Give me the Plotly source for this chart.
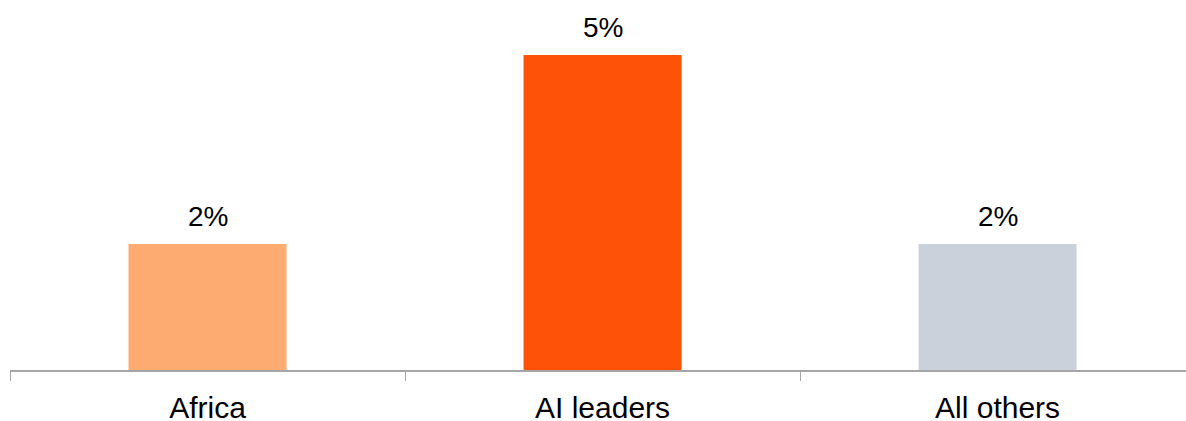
import plotly.graph_objects as go

categories = ["Africa", "AI leaders", "All others"]
values = [2, 5, 2]
labels = ["2%", "5%", "2%"]
colors = ["#FEAB72", "#FE5208", "#CBD1DA"]

FONT = "Liberation Sans, Arial"

fig = go.Figure(
    go.Bar(
        x=categories,
        y=values,
        marker=dict(color=colors, line=dict(width=0)),
        width=0.4,
        hoverinfo="skip",
    )
)

# value labels sit just above each bar
for cat, val, lab in zip(categories, values, labels):
    fig.add_annotation(
        x=cat,
        y=val,
        text=lab,
        showarrow=False,
        yanchor="bottom",
        yshift=10,
        font=dict(size=28, color="#000000", family=FONT),
    )

fig.update_layout(
    width=1186,
    height=421,
    margin=dict(l=10, r=0, t=0, b=51),
    paper_bgcolor="white",
    plot_bgcolor="white",
    showlegend=False,
    font=dict(family=FONT, size=30, color="#000000"),
)

fig.update_xaxes(
    type="category",
    range=[-0.5, 2.477],
    automargin=False,
    showline=True,
    linecolor="#A6A6A6",
    linewidth=1.5,
    ticks="outside",
    tickson="boundaries",
    ticklen=9,
    tickcolor="#A6A6A6",
    tickwidth=1,
    showgrid=False,
    ticklabelstandoff=10,
    tickfont=dict(size=30, color="#000000", family=FONT),
)

fig.update_yaxes(
    range=[0, 370 / 63],
    automargin=False,
    visible=False,
    showgrid=False,
    zeroline=False,
)

fig.write_html("out.html")
